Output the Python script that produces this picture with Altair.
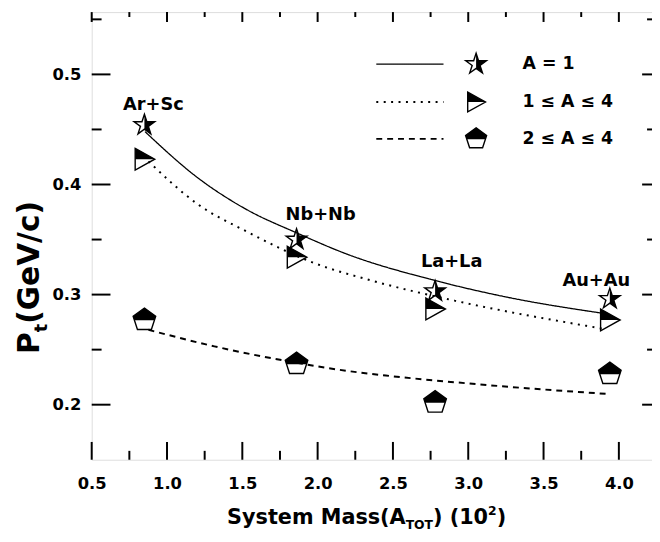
import altair as alt
import pandas as pd

# ---------------- data ----------------
systems = ["Ar+Sc", "Nb+Nb", "La+La", "Au+Au"]
mass = [0.85, 1.86, 2.78, 3.94]
pt_a1 = [0.454, 0.350, 0.303, 0.296]
pt_a14 = [0.423, 0.334, 0.287, 0.277]
pt_a24 = [0.277, 0.237, 0.202, 0.228]
label_x = [0.91, 2.02, 2.89, 3.85]
label_y = [0.472, 0.372, 0.330, 0.312]

fit_a1_x = [0.854, 1.205, 1.532, 1.862, 2.19, 2.774, 3.282, 3.895]
fit_a1_y = [0.448, 0.406, 0.377, 0.356, 0.337, 0.313, 0.297, 0.283]
fit_a14_x = [0.877, 1.205, 1.533, 1.97, 2.364, 2.91, 3.895]
fit_a14_y = [0.421, 0.382, 0.357, 0.329, 0.3125, 0.2945, 0.269]
fit_a24_x = [0.877, 1.314, 1.862, 2.19, 2.453, 3.06, 3.938]
fit_a24_y = [0.268, 0.253, 0.238, 0.2308, 0.2265, 0.2186, 0.2096]

x_major = [0.5, 1.0, 1.5, 2.0, 2.5, 3.0, 3.5, 4.0]
x_minor = [0.75, 1.25, 1.75, 2.25, 2.75, 3.25, 3.75]
y_major = [0.2, 0.3, 0.4, 0.5]
y_minor = [0.25, 0.35, 0.45, 0.55]

legend_labels = ["A = 1", "1 \u2264 A \u2264 4", "2 \u2264 A \u2264 4"]

# ---------------- styles ----------------
FONT = "DejaVu Sans"
W, H = 567, 453
xs = alt.Scale(domain=[0.5, 4.22], nice=False, zero=False)
ys = alt.Scale(domain=[0.15, 0.5566], nice=False, zero=False)
xaxis = alt.Axis(values=x_major, format=".1f", ticks=False, domain=False, grid=False,
                 labelFont=FONT, labelFontSize=16.5, labelFontWeight="bold", labelColor="black",
                 labelPadding=16, title=None, labelFlush=False, labelOverlap=False)
yaxis = alt.Axis(values=y_major, format=".1f", ticks=False, domain=False, grid=False,
                 labelFont=FONT, labelFontSize=16.5, labelFontWeight="bold", labelColor="black",
                 labelPadding=11, title=None, labelFlush=False, labelOverlap=False)

STAR = "M0,-1L0.2245,-0.309L0.9511,-0.309L0.3633,0.118L0.5878,0.809L0,0.382L-0.5878,0.809L-0.3633,0.118L-0.9511,-0.309L-0.2245,-0.309Z"
STAR_R = "M0,-1L0.2245,-0.309L0.9511,-0.309L0.3633,0.118L0.5878,0.809L0,0.382Z"
TRI = "M-0.85,-1L0.95,0L-0.85,1Z"
TRI_T = "M-0.85,-1L0.95,0L-0.85,0Z"
PENT = "M0,-1L0.9511,-0.309L0.5878,0.809L-0.5878,0.809L-0.9511,-0.309Z"
PENT_T = "M0,-1L0.9511,-0.309L0.841,0.03L-0.841,0.03L-0.9511,-0.309Z"

pts = pd.DataFrame({"sys": systems, "x": mass, "a1": pt_a1, "a14": pt_a14, "a24": pt_a24,
                    "lx": label_x, "ly": label_y})

def X(f):
    return alt.X(f"{f}:Q", scale=xs, axis=xaxis)

def Y(f):
    return alt.Y(f"{f}:Q", scale=ys, axis=yaxis)

layers = []

# fit curves
for fx, fy, dash, sw in [(fit_a1_x, fit_a1_y, [1, 0], 1.3),
                         (fit_a14_x, fit_a14_y, [2, 5.5], 2),
                         (fit_a24_x, fit_a24_y, [6, 5], 2)]:
    d = pd.DataFrame({"x": fx, "y": fy})
    layers.append(alt.Chart(d).mark_line(color="black", strokeWidth=sw, strokeDash=dash,
                                         interpolate="monotone").encode(x=X("x"), y=Y("y")))

# markers
for col, full, half, size in [("a1", STAR, STAR_R, 484), ("a14", TRI, TRI_T, 484),
                              ("a24", PENT, PENT_T, 576)]:
    base = alt.Chart(pts)
    layers.append(base.mark_point(shape=full, size=size, filled=False, color="black",
                                  strokeWidth=1.4, opacity=1).encode(x=X("x"), y=Y(col)))
    layers.append(base.mark_point(shape=half, size=size, filled=True, color="black",
                                  strokeWidth=0.5, opacity=1).encode(x=X("x"), y=Y(col)))

# system labels
layers.append(alt.Chart(pts).mark_text(font=FONT, fontSize=18, fontWeight="bold", color="black",
                                       baseline="middle").encode(x=X("lx"), y=Y("ly"), text="sys:N"))

# tick marks (inward)
xmaj = pd.DataFrame({"v": x_major})
xmin = pd.DataFrame({"v": x_minor})
ymaj = pd.DataFrame({"v": y_major})
ymin = pd.DataFrame({"v": y_minor})
for d, blen, tlen in [(xmaj, 18, 10), (xmin, 9, 5)]:
    layers.append(alt.Chart(d).mark_rule(color="black", strokeWidth=2).encode(
        x=X("v"), y=alt.value(H), y2=alt.value(H - blen)))
    layers.append(alt.Chart(d).mark_rule(color="black", strokeWidth=2).encode(
        x=X("v"), y=alt.value(0), y2=alt.value(tlen)))
for d, llen, rlen in [(ymaj, 19, 10), (ymin, 10, 5)]:
    layers.append(alt.Chart(d).mark_rule(color="black", strokeWidth=2).encode(
        y=Y("v"), x=alt.value(0), x2=alt.value(llen)))
    layers.append(alt.Chart(d).mark_rule(color="black", strokeWidth=2).encode(
        y=Y("v"), x=alt.value(W), x2=alt.value(W - rlen)))

# legend
one = pd.DataFrame({"k": [0]})
rows_y = [52.7, 91.0, 128.3]
styles = [([1, 0], 1.3, STAR, STAR_R, 484), ([2, 5.5], 2, TRI, TRI_T, 400),
          ([6, 5], 2, PENT, PENT_T, 500)]
for ry, lab, (dash, sw, full, half, size) in zip(rows_y, legend_labels, styles):
    b = alt.Chart(one)
    layers.append(b.mark_rule(color="black", strokeWidth=sw, strokeDash=dash).encode(
        x=alt.value(288), x2=alt.value(356), y=alt.value(ry)))
    layers.append(b.mark_point(shape=full, size=size, filled=False, color="black",
                               strokeWidth=1.4, opacity=1).encode(x=alt.value(389), y=alt.value(ry)))
    layers.append(b.mark_point(shape=half, size=size, filled=True, color="black",
                               strokeWidth=0.5, opacity=1).encode(x=alt.value(389), y=alt.value(ry)))
    layers.append(b.mark_text(text=lab, font=FONT, fontSize=17.5, fontWeight="bold", color="black",
                              align="left", baseline="middle").encode(x=alt.value(436), y=alt.value(ry)))

# axis titles built from pieces (sub/superscripts)
CW = {" ": 0.348, "(": 0.457, ")": 0.457, "+": 0.838, "/": 0.365, "0": 0.696, "1": 0.696,
      "2": 0.696, "=": 0.838, "A": 0.774, "G": 0.821, "M": 0.995, "O": 0.850, "P": 0.733,
      "S": 0.720, "T": 0.682, "V": 0.774, "a": 0.675, "c": 0.593, "e": 0.678, "m": 1.042,
      "r": 0.493, "s": 0.595, "t": 0.478, "y": 0.652}

def tw(s, fs):
    return sum(CW.get(c, 0.6) for c in s) * fs

xt_parts = [("System Mass(A", 21, 0), ("TOT", 12.5, 5), (") (10", 21, 0), ("2", 12.5, -9), (")", 21, 0)]
xpos = 137.0
xbase = H + 65
for txt, fs, dy in xt_parts:
    layers.append(alt.Chart(one).mark_text(text=txt, font=FONT, fontSize=fs, fontWeight="bold",
                                           color="black", align="left", baseline="alphabetic").encode(
        x=alt.value(xpos), y=alt.value(xbase + dy)))
    xpos += tw(txt, fs)

yt_parts = [("P", 30, 0), ("t", 18, 8), ("(GeV/c)", 30, 0)]
ypos = 346.0
ybase = -53.0
for txt, fs, dx in yt_parts:
    layers.append(alt.Chart(one).mark_text(text=txt, font=FONT, fontSize=fs, fontWeight="bold",
                                           color="black", align="left", baseline="alphabetic",
                                           angle=270).encode(
        x=alt.value(ybase + dx), y=alt.value(ypos)))
    ypos -= tw(txt, fs)

chart = alt.layer(*layers).properties(
    width=W, height=H, autosize=alt.AutoSizeParams(type="none"),
    padding={"left": 84.7, "top": 1, "right": 0, "bottom": 71}
).configure_view(stroke="black", strokeWidth=2).configure(background="white")

chart.save("out.html", embed_options={"renderer": "svg", "actions": False})
